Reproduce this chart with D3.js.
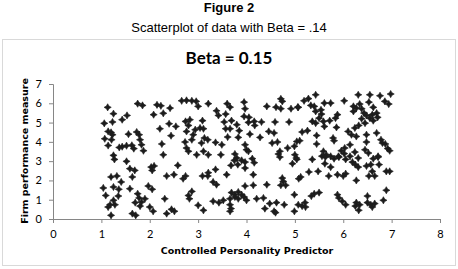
<!DOCTYPE html>
<html>
<head>
<meta charset="utf-8">
<script src="https://cdn.jsdelivr.net/npm/d3@7"></script>
<style>
  body { margin: 0; background: #fff; }
  svg { display: block; }
</style>
</head>
<body>
<div id="chart"></div>
<script>
// predictor values (x) and firm performance values (y)
var predictor = [
  1.13,1.25,1.75,1.85,2.15,2.23,2.08,2.28,2.42,2.66,2.76,2.87,2.96,3.00,1.06,1.23,1.43,1.53,1.14,1.20,
  1.23,1.07,1.21,1.56,1.73,1.78,1.80,1.83,1.14,1.37,1.43,1.52,1.63,1.67,1.87,1.25,2.21,2.40,2.54,2.44,
  2.74,2.83,2.80,2.76,2.94,2.90,2.87,2.73,2.25,2.28,2.76,2.80,2.97,
  3.21,3.60,3.66,3.95,3.97,3.38,3.42,3.57,3.95,4.05,4.71,4.74,4.42,4.61,4.71,4.92,5.06,3.09,3.54,3.69,
  3.80,4.04,4.16,4.17,4.31,4.59,4.88,3.04,3.11,3.57,3.66,3.85,4.07,4.46,4.57,3.61,3.83,4.28,3.13,3.20,
  3.07,3.36,3.49,3.97,4.53,4.64,4.00,4.04,3.11,3.21,3.47,3.76,4.69,4.66,4.85,4.99,5.04,5.00,
  5.43,5.19,5.28,5.07,5.33,5.40,5.61,5.74,6.02,6.31,6.55,6.76,6.98,6.86,6.94,6.53,6.34,6.21,6.27,6.38,
  6.21,6.62,5.43,5.54,5.55,5.50,6.43,6.48,6.69,6.60,6.71,5.88,5.84,6.55,6.38,5.36,5.43,5.59,5.72,5.61,
  6.62,6.45,6.32,6.24,5.86,5.15,5.26,6.10,6.17,6.27,6.48,6.69,5.45,5.79,5.81,5.10,5.45,6.48,6.78,6.81,
  6.87,6.92,6.96,6.14,6.03,5.96,6.24,6.45,6.52,5.59,5.65,5.74,5.90,6.14,6.72,
  1.27,1.52,1.59,1.69,2.03,2.09,2.05,2.58,1.20,1.32,1.41,1.64,2.35,2.50,2.69,2.74,1.04,1.25,1.36,1.59,
  1.97,2.05,1.09,1.35,1.75,1.78,1.90,1.70,1.83,1.80,1.25,1.18,1.28,1.14,2.00,2.07,2.31,2.45,2.51,2.35,
  1.20,1.64,1.71,2.80,2.82,2.87,3.00,
  3.80,3.75,3.90,3.97,4.12,4.16,3.68,3.82,3.97,3.36,4.14,4.69,4.95,5.04,3.09,3.20,3.21,3.59,3.31,3.38,
  3.97,4.14,4.42,4.74,4.76,4.81,4.71,3.69,3.76,3.83,3.90,3.76,3.83,3.95,4.00,3.66,4.21,4.35,3.31,3.43,
  3.52,3.11,3.66,3.68,3.66,4.48,4.62,4.78,4.38,4.57,4.60,4.99,4.99,
  5.03,5.36,5.56,5.63,5.81,5.91,6.02,6.05,6.19,6.25,6.31,6.31,6.48,6.57,6.62,6.72,6.74,5.62,5.74,5.29,
  5.48,5.70,5.88,6.00,6.05,5.12,5.08,6.53,6.60,6.65,6.89,6.96,6.27,5.34,5.40,5.50,5.88,5.91,5.98,6.05,
  5.07,5.15,5.21,5.22,6.50,6.50,6.57,6.65,6.60,6.27,6.34,6.25,6.32,6.83,6.89
];
var performance = [
  5.79,5.46,5.98,5.89,5.92,5.87,5.41,5.48,5.75,6.13,6.15,6.13,6.10,5.84,4.96,5.03,5.15,5.37,4.54,4.49,
  4.37,4.16,4.11,4.40,4.51,4.37,4.11,3.85,3.81,3.71,3.75,3.80,3.82,3.65,3.54,3.30,4.68,4.94,4.80,4.32,
  5.06,5.15,4.85,4.54,4.63,4.37,4.11,3.99,3.89,3.33,3.68,3.51,3.33,
  5.98,5.98,5.80,6.06,5.72,5.61,5.37,5.44,5.32,5.27,6.23,6.10,5.84,5.80,5.72,5.72,5.80,5.10,5.03,5.10,
  4.89,5.01,5.06,4.85,5.03,5.03,5.03,4.72,4.68,4.68,4.68,4.58,4.40,4.54,4.46,4.25,4.23,4.23,4.20,4.11,
  3.94,3.97,3.85,3.85,3.94,3.99,3.59,3.51,3.51,3.33,3.33,3.37,3.51,3.37,3.68,3.77,4.02,3.33,
  6.44,6.13,6.24,5.79,5.89,5.84,6.01,6.01,6.13,6.44,6.44,6.39,6.48,6.10,5.96,6.06,5.96,5.84,5.75,5.72,
  5.58,5.79,5.58,5.66,5.44,5.23,5.49,5.37,5.49,5.41,5.27,5.41,5.23,5.23,5.20,5.06,4.97,5.06,5.10,4.80,
  5.10,4.97,4.85,4.72,4.75,4.51,4.58,4.54,4.37,4.28,4.37,4.46,4.33,4.20,4.06,4.06,3.89,3.99,4.11,3.94,
  3.89,3.65,3.54,3.85,3.68,3.54,3.47,3.59,3.42,3.51,3.33,3.25,3.25,3.25,3.25,
  3.09,2.99,2.61,2.52,2.69,2.75,2.52,2.78,2.18,2.23,1.92,2.18,2.23,2.30,2.09,2.23,1.61,1.66,1.54,1.57,
  1.71,1.54,1.22,1.19,1.31,1.09,1.05,0.85,0.88,0.67,0.97,0.74,0.74,0.62,0.62,0.40,1.05,0.50,0.40,0.28,
  0.19,0.28,0.19,1.22,1.05,1.43,0.71,
  3.16,3.04,3.04,2.95,3.13,2.92,2.78,2.82,2.64,2.57,2.30,3.21,2.87,3.09,2.23,2.23,2.40,2.30,1.92,1.78,
  1.71,1.75,1.78,2.12,1.95,1.75,1.75,1.37,1.26,1.40,1.26,1.14,1.05,1.14,0.97,1.05,1.05,1.09,0.92,0.85,
  0.97,0.45,0.74,0.54,0.40,0.80,0.85,0.74,0.54,0.40,0.33,1.26,0.40,
  3.16,3.09,3.26,3.21,3.13,3.21,3.39,3.09,2.95,2.82,3.16,2.69,2.75,2.82,3.13,3.21,2.82,2.87,2.69,2.44,
  2.47,2.23,2.30,2.23,2.35,2.18,2.09,2.23,2.47,2.23,2.47,2.47,2.00,1.19,1.31,1.37,1.26,1.09,0.92,0.74,
  0.74,0.67,0.85,0.62,1.19,0.85,0.74,0.80,0.62,0.85,0.74,0.67,0.45,0.97,1.49
];
var xTicks = [0, 1, 2, 3, 4, 5, 6, 7, 8];
var yTicks = [0, 1, 2, 3, 4, 5, 6, 7];

var w = 458, h = 269;
var svg = d3.select("#chart").append("svg").attr("width", w).attr("height", h);

// figure caption above the chart
svg.append("text").attr("x", 229).attr("y", 11.5).attr("text-anchor", "middle")
  .style("font", "bold 13px 'Liberation Sans', Arial, sans-serif").text("Figure 2");
svg.append("text").attr("x", 229).attr("y", 31.5).attr("text-anchor", "middle")
  .style("font", "13px 'Liberation Sans', Arial, sans-serif").text("Scatterplot of data with Beta = .14");

// chart frame
svg.append("rect").attr("x", 2.5).attr("y", 39.5).attr("width", 453).attr("height", 226)
  .attr("fill", "#fff").attr("stroke", "#d9d9d9");

svg.append("text").attr("x", 229).attr("y", 64).attr("text-anchor", "middle")
  .style("font", "bold 17px Lato, sans-serif").style("fill", "#000").text("Beta = 0.15");

var x = d3.scaleLinear().domain([0, 8]).range([53, 440]);
var y = d3.scaleLinear().domain([0, 7]).range([219, 84]);

var xAxis = svg.append("g").attr("transform", "translate(0," + y(0) + ")")
  .call(d3.axisBottom(x).tickValues(xTicks).tickFormat(d3.format("d")).tickSize(4).tickPadding(7));
var yAxis = svg.append("g").attr("transform", "translate(" + x(0) + ",0)")
  .call(d3.axisLeft(y).tickValues(yTicks).tickFormat(d3.format("d")).tickSize(4).tickPadding(7));

[xAxis, yAxis].forEach(function(g) {
  g.select(".domain").attr("stroke", "#868686");
  g.selectAll(".tick line").attr("stroke", "#868686");
  g.selectAll(".tick text").style("font", "11px Lato, sans-serif").attr("fill", "#000");
});

// axis titles
svg.append("text").attr("x", 247).attr("y", 254).attr("text-anchor", "middle")
  .style("font", "bold 9.5px 'DejaVu Sans', sans-serif").text("Controlled Personality Predictor");
svg.append("text").attr("transform", "translate(28,151) rotate(-90)").attr("text-anchor", "middle")
  .style("font", "bold 9.5px 'DejaVu Sans', sans-serif").text("Firm performance measure");

// four point star marker
var star = "M0,-3.6L1.3,-1.3L3.6,0L1.3,1.3L0,3.6L-1.3,1.3L-3.6,0L-1.3,-1.3Z";
svg.append("g").selectAll("path")
  .data(predictor.map(function(d, i) { return [d, performance[i]]; }))
  .enter().append("path")
  .attr("d", star)
  .attr("transform", function(d) { return "translate(" + x(d[0]) + "," + y(d[1]) + ")"; })
  .attr("fill", "#1c1c1c")
  .attr("stroke", "#1c1c1c").attr("stroke-width", 0.6);
</script>
</body>
</html>
